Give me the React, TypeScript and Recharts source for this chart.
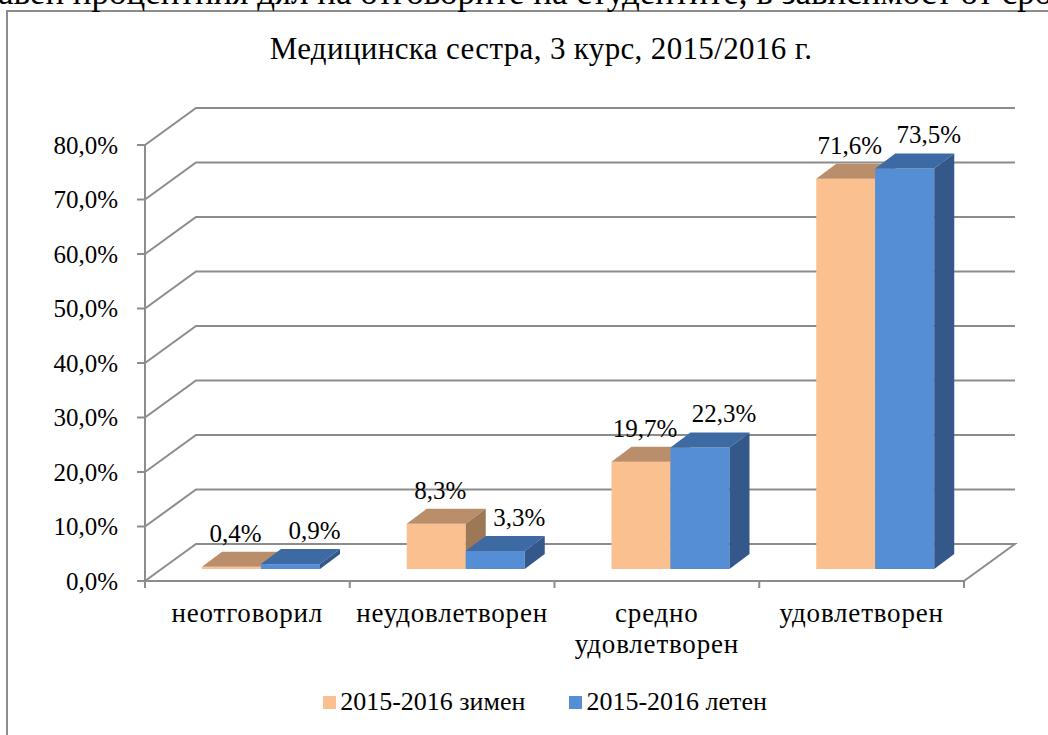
import { BarChart, Bar, XAxis, YAxis, CartesianGrid, Legend, LabelList } from 'recharts';

const categories = ['неотговорил', 'неудовлетворен', 'средно удовлетворен', 'удовлетворен'];
const winterValues = [0.4, 8.3, 19.7, 71.6];
const summerValues = [0.9, 3.3, 22.3, 73.5];
const seriesNames = ['2015-2016 зимен', '2015-2016 летен'];
const yTicks = [0, 10, 20, 30, 40, 50, 60, 70, 80];

const data = categories.map((name, i) => ({ name, winter: winterValues[i], summer: summerValues[i] }));

const FONT = '"Liberation Serif", "Times New Roman", serif';
const GRID = '#8c8c8c';
// 3D wall depth and bar depth
const WALL_DX = 51;
const WALL_DY = 37;
const BAR_DX = 20;
const BAR_DY = 15;
const BAR_OX = 14;
const BAR_OY = 12;

const fmt = (v: number) => v.toFixed(1).replace('.', ',') + '%';

function Box(props: any) {
  const { x, y, width, height, fill, topFill, sideFill } = props;
  if (x == null || y == null) return null;
  const fx = x + BAR_OX;
  const fy = y - BAR_OY;
  const bottom = fy + height;
  return (
    <g>
      <rect x={fx} y={fy} width={width} height={Math.max(height, 0)} fill={fill} />
      <polygon
        points={`${fx},${fy} ${fx + BAR_DX},${fy - BAR_DY} ${fx + width + BAR_DX},${fy - BAR_DY} ${fx + width},${fy}`}
        fill={topFill}
      />
      <polygon
        points={`${fx + width},${fy} ${fx + width + BAR_DX},${fy - BAR_DY} ${fx + width + BAR_DX},${bottom - BAR_DY} ${fx + width},${bottom}`}
        fill={sideFill}
      />
    </g>
  );
}

const gridLine = (p: any) => {
  const { x1, y1, x2 } = p;
  const isFloor = Math.abs(y1 - (p.y + p.height)) < 1;
  return (
    <g key={p.key ?? `h-${p.index}`}>
      <polyline
        points={`${x1},${y1} ${x1 + WALL_DX},${y1 - WALL_DY} ${x2 + WALL_DX},${y1 - WALL_DY}${isFloor ? ` ${x2},${y1}` : ''}`}
        fill="none"
        stroke={GRID}
        strokeWidth={2}
      />
    </g>
  );
};

const valueLabel = (dx: number) => (p: any) => {
  const vb = p.viewBox ?? {};
  const x = p.x ?? vb.x;
  const y = p.y ?? vb.y;
  const w = p.width ?? vb.width;
  return (
    <text x={x + w / 2 + dx} y={y - 37} textAnchor="middle" fontFamily={FONT} fontSize={25} fill="#000">
      {fmt(Number(p.value))}
    </text>
  );
};

function CatTick(props: any) {
  const { x, y, payload, index, visibleTicksCount } = props;
  const half = payload?.offset ?? 0;
  const words = String(payload.value).split(' ');
  return (
    <g>
      <line x1={x - half} y1={y} x2={x - half} y2={y + 7} stroke={GRID} strokeWidth={2} />
      {index === visibleTicksCount - 1 && (
        <line x1={x + half} y1={y} x2={x + half} y2={y + 7} stroke={GRID} strokeWidth={2} />
      )}
      <text x={x} y={y + 41} textAnchor="middle" fontFamily={FONT} fontSize={27} letterSpacing={0.8} fill="#000">
        {words.map((w, i) => (
          <tspan key={i} x={x} dy={i === 0 ? 0 : 31}>
            {w}
          </tspan>
        ))}
      </text>
    </g>
  );
}

function LegendContent(props: any) {
  const items = props.payload ?? [];
  return (
    <div style={{ display: 'flex', justifyContent: 'center', paddingLeft: 42, gap: 44, fontFamily: FONT, fontSize: 26, color: '#000' }}>
      {items.map((it: any) => (
        <div key={it.value} style={{ display: 'flex', alignItems: 'center', gap: 4 }}>
          <span style={{ width: 13, height: 13, background: it.color, display: 'inline-block' }} />
          <span>{it.value}</span>
        </div>
      ))}
    </div>
  );
}

export default function App() {
  return (
    <div style={{ position: 'absolute', left: 0, top: 0, width: 1048, height: 735, overflow: 'hidden', background: '#fff' }}>
      <BarChart
        width={1048}
        height={735}
        data={data}
        margin={{ top: 145, right: 84, bottom: 94, left: 45 }}
        barCategoryGap="21%"
        barGap={0}
      >
        <CartesianGrid horizontal={gridLine} vertical={false} />
        <XAxis
          dataKey="name"
          height={60}
          interval={0}
          tickSize={0}
          tickMargin={0}
          tickLine={false}
          axisLine={{ stroke: GRID, strokeWidth: 2 }}
          tick={<CatTick />}
        />
        <YAxis
          domain={[0, 80]}
          ticks={yTicks}
          interval={0}
          width={100}
          tickFormatter={fmt}
          tickSize={8}
          tickMargin={19}
          axisLine={{ stroke: GRID, strokeWidth: 2 }}
          tickLine={{ stroke: GRID, strokeWidth: 2 }}
          tick={{ fill: '#000', fontSize: 25, fontFamily: FONT }}
        />
        <Legend
          layout="horizontal"
          verticalAlign="middle"
          content={<LegendContent />}
          wrapperStyle={{ top: 687, left: 0, width: 1048 }}
        />
        <Bar
          dataKey="winter"
          name={seriesNames[0]}
          fill="#FAC090"
          isAnimationActive={false}
          shape={(p: any) => <Box {...p} topFill="#BA8E6A" sideFill="#9C7856" />}
        >
          <LabelList dataKey="winter" content={valueLabel(18)} />
        </Bar>
        <Bar
          dataKey="summer"
          name={seriesNames[1]}
          fill="#558ED5"
          isAnimationActive={false}
          shape={(p: any) => <Box {...p} topFill="#3E6AA3" sideFill="#35588A" />}
        >
          <LabelList dataKey="summer" content={valueLabel(38)} />
        </Bar>
      </BarChart>
      <div style={{ position: 'absolute', left: 6, top: 10, width: 1200, height: 900, border: `2px solid ${GRID}`, pointerEvents: 'none' }} />
      <div style={{ position: 'absolute', left: -2, top: -25, fontFamily: FONT, fontSize: 35, lineHeight: 1, whiteSpace: 'nowrap', color: '#000' }}>
        <span style={{ position: 'absolute', right: '100%' }}>Предст</span>
        авен процентния дял на отговорите на студентите, в зависимост от срока на обучение
      </div>
      <div style={{ position: 'absolute', left: 0, width: 1082, top: 33, textAlign: 'center', fontFamily: FONT, fontSize: 31, letterSpacing: 0.35, lineHeight: 1, color: '#000' }}>
        Медицинска сестра, 3 курс, 2015/2016 г.
      </div>
    </div>
  );
}
